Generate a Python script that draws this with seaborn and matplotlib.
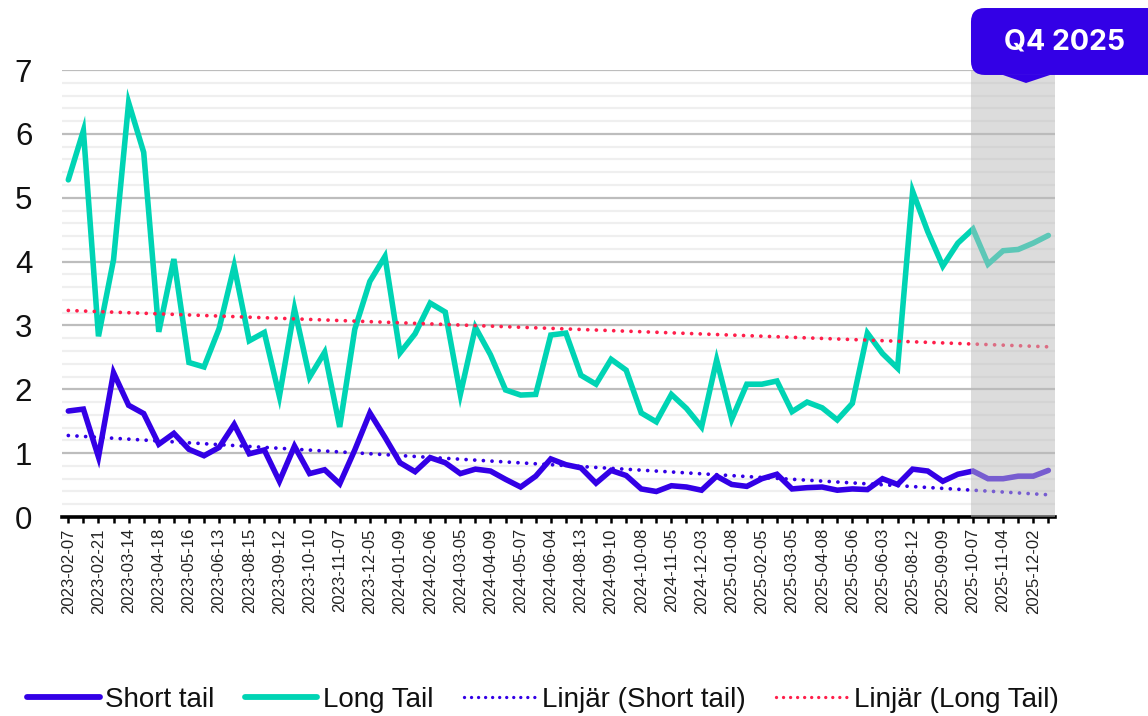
import numpy as np
import pandas as pd
import matplotlib
matplotlib.use("Agg")
import matplotlib.pyplot as plt
from matplotlib.patches import FancyBboxPatch, Polygon
from matplotlib.lines import Line2D
import seaborn as sns

# Labelled dates (every second observation carries a label)
tick_dates = [
    "2023-02-07", "2023-02-21", "2023-03-14", "2023-04-18", "2023-05-16",
    "2023-06-13", "2023-08-15", "2023-09-12", "2023-10-10", "2023-11-07",
    "2023-12-05", "2024-01-09", "2024-02-06", "2024-03-05", "2024-04-09",
    "2024-05-07", "2024-06-04", "2024-08-13", "2024-09-10", "2024-10-08",
    "2024-11-05", "2024-12-03", "2025-01-08", "2025-02-05", "2025-03-05",
    "2025-04-08", "2025-05-06", "2025-06-03", "2025-08-12", "2025-09-09",
    "2025-10-07", "2025-11-04", "2025-12-02",
]

short_tail = [
    1.66, 1.69, 0.94, 2.26, 1.75, 1.62, 1.14, 1.31, 1.06, 0.96, 1.09, 1.45,
    0.99, 1.05, 0.56, 1.11, 0.68, 0.74, 0.52, 1.05, 1.63, 1.25, 0.85,
    0.71, 0.93, 0.85, 0.68, 0.75, 0.72, 0.59, 0.47, 0.64, 0.91, 0.82, 0.77,
    0.53, 0.73, 0.65, 0.44, 0.40, 0.49, 0.47, 0.42, 0.64, 0.51,
    0.48, 0.60, 0.67, 0.44, 0.46, 0.47, 0.42, 0.44, 0.43, 0.60, 0.51, 0.75,
    0.72, 0.56, 0.67, 0.72, 0.60, 0.60, 0.64, 0.64, 0.73,
]

long_tail = [
    5.28, 6.05, 2.83, 4.03, 6.49, 5.71, 2.90, 4.04, 2.42, 2.35, 2.95, 3.93,
    2.76, 2.89, 1.89, 3.26, 2.19, 2.58, 1.41, 2.94, 3.69, 4.08, 2.57,
    2.87, 3.35, 3.21, 1.92, 2.97, 2.54, 1.99, 1.91, 1.92, 2.85, 2.88, 2.22,
    2.08, 2.47, 2.30, 1.63, 1.49, 1.92, 1.70, 1.41, 2.46, 1.53,
    2.08, 2.08, 2.13, 1.65, 1.80, 1.71, 1.52, 1.78, 2.88, 2.56, 2.33, 5.10,
    4.47, 3.93, 4.29, 4.51, 3.96, 4.17, 4.19, 4.29, 4.41,
]

series_names = ["Short tail", "Long Tail"]
trend_names = ["Linjär (Short tail)", "Linjär (Long Tail)"]
highlight_label = "Q4 2025"
highlight_start = 60  # first observation of the highlighted quarter

BLUE = "#3300e6"
GREEN = "#00d4b4"
RED = "#ff1f4b"

sns.set_theme(style="white")
plt.rcParams["font.family"] = ["Liberation Sans", "DejaVu Sans"]

n = len(short_tail)
idx = np.arange(n)
df = pd.DataFrame({"idx": idx, series_names[0]: short_tail, series_names[1]: long_tail})

# Linear trendlines fitted over the full series
trend_short = np.polyval(np.polyfit(idx, short_tail, 1), idx)
trend_long = np.polyval(np.polyfit(idx, long_tail, 1), idx)

fig = plt.figure(figsize=(11.48, 7.16), dpi=100)
ax = fig.add_axes([0.0536, 0.2779, 0.8655, 0.6243])

sns.lineplot(data=df, x="idx", y=series_names[0], ax=ax, color=BLUE, lw=4.0,
             solid_joinstyle="miter", zorder=2)
sns.lineplot(data=df, x="idx", y=series_names[1], ax=ax, color=GREEN, lw=4.0,
             solid_joinstyle="miter", zorder=2)
dot_style = (0, (0.01, 2.3))
sns.lineplot(x=idx, y=trend_short, ax=ax, color=BLUE, lw=2.7, linestyle=dot_style,
             dash_capstyle="round", zorder=2.1)
sns.lineplot(x=idx, y=trend_long, ax=ax, color=RED, lw=2.7, linestyle=dot_style,
             dash_capstyle="round", zorder=2.1)

ax.set_xlim(-0.45, n - 1 + 0.45)
ax.set_ylim(0, 7)

# Highlighted quarter: translucent grey layer over the lines
ax.axvspan(highlight_start - 0.1, n - 1 + 0.45, color="#bbbbbb", alpha=0.5,
           lw=0, zorder=3)

# Axes, grid and ticks
ax.set_yticks(range(0, 8))
ax.set_yticks(np.arange(0, 7.01, 0.2), minor=True)
ax.grid(which="major", axis="y", color="#bdbdbd", lw=1.6)
ax.grid(which="minor", axis="y", color="#efefef", lw=1.6)
ax.grid(which="both", axis="x", visible=False)
ax.set_axisbelow(True)

labels = []
for i in idx:
    labels.append(tick_dates[i // 2] if i % 2 == 0 else "")
ax.set_xticks(idx)
ax.set_xticklabels(labels, rotation=90, fontsize=12, color="#222222")
ax.tick_params(axis="x", which="major", length=4, width=1.8, color="black",
               direction="out", pad=4, bottom=True)
ax.tick_params(axis="y", which="both", length=0, labelsize=22.5, pad=21,
               labelcolor="#111111")

for side in ["left", "right", "top"]:
    ax.spines[side].set_visible(False)
ax.spines["bottom"].set_color("black")
ax.spines["bottom"].set_linewidth(2.6)
ax.set_xlabel("")
ax.set_ylabel("")
if ax.get_legend() is not None:
    ax.get_legend().remove()

# Quarter callout above the highlighted area
box = FancyBboxPatch((0.8458, 0.8953), 0.20, 0.0935,
                     boxstyle="round,pad=0,rounding_size=0.012",
                     transform=fig.transFigure, facecolor=BLUE, edgecolor="none",
                     mutation_aspect=1148 / 716, zorder=10, clip_on=False)
fig.patches.append(box)
pointer = Polygon([(1003 / 1148, 1 - 75 / 716), (1050 / 1148, 1 - 75 / 716),
                   (1026 / 1148, 1 - 83 / 716)], closed=True,
                  transform=fig.transFigure, facecolor=BLUE, edgecolor="none",
                  zorder=10)
fig.patches.append(pointer)
fig.text(1065 / 1148, 1 - 42 / 716, highlight_label, color="white",
         fontsize=20.5, fontweight="bold", family=["Inter", "DejaVu Sans"],
         ha="center", va="center", zorder=11)

# Legend along the bottom
handles = [
    Line2D([], [], color=BLUE, lw=4.2),
    Line2D([], [], color=GREEN, lw=4.2),
    Line2D([], [], color=BLUE, lw=2.4, linestyle=(0, (0.01, 2.1)), dash_capstyle="round"),
    Line2D([], [], color=RED, lw=2.4, linestyle=(0, (0.01, 2.1)), dash_capstyle="round"),
]
fig.legend(handles, series_names + trend_names, loc="center", ncol=4,
           bbox_to_anchor=(543 / 1148, 1 - 700 / 716), frameon=False,
           fontsize=20, handlelength=2.6, handletextpad=0.2, columnspacing=1.1,
           labelcolor="#111111")

fig.savefig("out.png", dpi=100)
